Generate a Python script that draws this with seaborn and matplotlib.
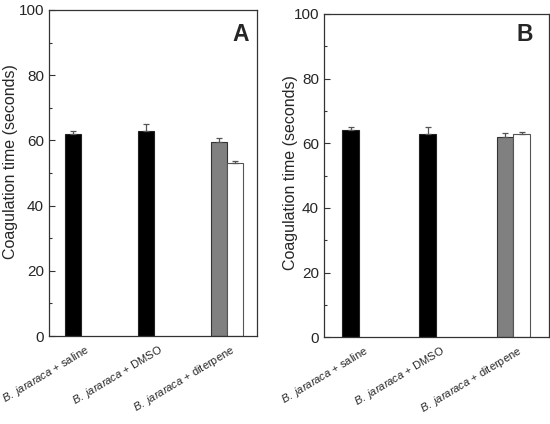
import pandas as pd
import matplotlib.pyplot as plt
import seaborn as sns
from matplotlib.ticker import MultipleLocator
from matplotlib.transforms import ScaledTranslation

# 数据
groups = ["saline", "DMSO", "diterpene"]
bar_group = ["saline", "DMSO", "diterpene", "diterpene"]
bar_slot = ["first", "first", "first", "second"]
values_a = [62.0, 63.0, 59.5, 53.0]
errors_a = [1.0, 2.0, 1.1, 0.7]
values_b = [64.0, 63.0, 62.0, 63.0]
errors_b = [1.0, 2.0, 1.1, 0.6]
tick_labels = [r"$\mathit{B.\ jararaca}$ + saline",
               r"$\mathit{B.\ jararaca}$ + DMSO",
               r"$\mathit{B.\ jararaca}$ + diterpene"]

# 样式
face_colors = ["black", "black", "#808080", "white"]
edge_colors = ["#222222", "#222222", "#333333", "#555555"]

sns.set_style("ticks")
plt.rcParams['font.family'] = ['Liberation Sans', 'DejaVu Sans']
plt.rcParams['mathtext.fontset'] = 'custom'
plt.rcParams['mathtext.rm'] = 'Liberation Sans'
plt.rcParams['mathtext.it'] = 'Liberation Sans:italic'

fig = plt.figure(figsize=(5.5, 4.24), dpi=100)
ax_a = fig.add_axes([0.089, 0.2075, 0.378, 0.769])
ax_b = fig.add_axes([0.589, 0.2045, 0.409, 0.7625])


def draw_panel(ax, values, errors, letter, xlim, letter_pos, ylabel_pos):
    df = pd.DataFrame({"group": bar_group, "slot": bar_slot, "value": values})
    sns.barplot(data=df, x="group", y="value", hue="slot", order=groups,
                hue_order=["first", "second"], dodge=True, width=0.44,
                errorbar=None, legend=False, ax=ax, saturation=1)
    # 颜色和误差线
    for patch, fc, ec, err in zip(ax.patches, face_colors, edge_colors, errors):
        patch.set_facecolor(fc)
        patch.set_edgecolor(ec)
        patch.set_linewidth(0.8)
        xc = patch.get_x() + patch.get_width() / 2
        ax.errorbar(xc, patch.get_height(), yerr=[[0], [err]], fmt="none",
                    ecolor="#555555", elinewidth=0.9, capsize=2.5, capthick=0.9)
    ax.set_xlim(*xlim)
    ax.set_ylim(0, 100)
    ax.yaxis.set_major_locator(MultipleLocator(20))
    ax.yaxis.set_minor_locator(MultipleLocator(10))
    ax.tick_params(axis="y", which="major", direction="in", length=4,
                   width=0.8, labelsize=11, color="#333333", pad=3.5)
    ax.tick_params(axis="y", which="minor", direction="in", length=2.5,
                   width=0.8, color="#333333")
    ax.tick_params(axis="x", length=0, pad=5)
    ax.set_xticks(range(len(groups)))
    ax.set_xticklabels(tick_labels, rotation=31, ha="right", fontsize=8.0)
    offset = ScaledTranslation(8 / 72, 0, fig.dpi_scale_trans)
    for lab in ax.get_xticklabels():
        lab.set_transform(lab.get_transform() + offset)
    ax.set_xlabel("")
    ax.set_ylabel("Coagulation time (seconds)", fontsize=11.5)
    ax.yaxis.set_label_coords(*ylabel_pos)
    for sp in ax.spines.values():
        sp.set_visible(True)
        sp.set_linewidth(0.9)
        sp.set_color("#333333")
    ax.text(letter_pos[0], letter_pos[1], letter, transform=ax.transAxes,
            fontsize=16.5, fontweight="bold", ha="center", va="center")


draw_panel(ax_a, values_a, errors_a, "A", (-0.44, 2.41), (0.92, 0.926), (-0.151, 0.535))
draw_panel(ax_b, values_b, errors_b, "B", (-0.46, 2.46), (0.893, 0.938), (-0.115, 0.51))

plt.savefig("out.png", dpi=100)
